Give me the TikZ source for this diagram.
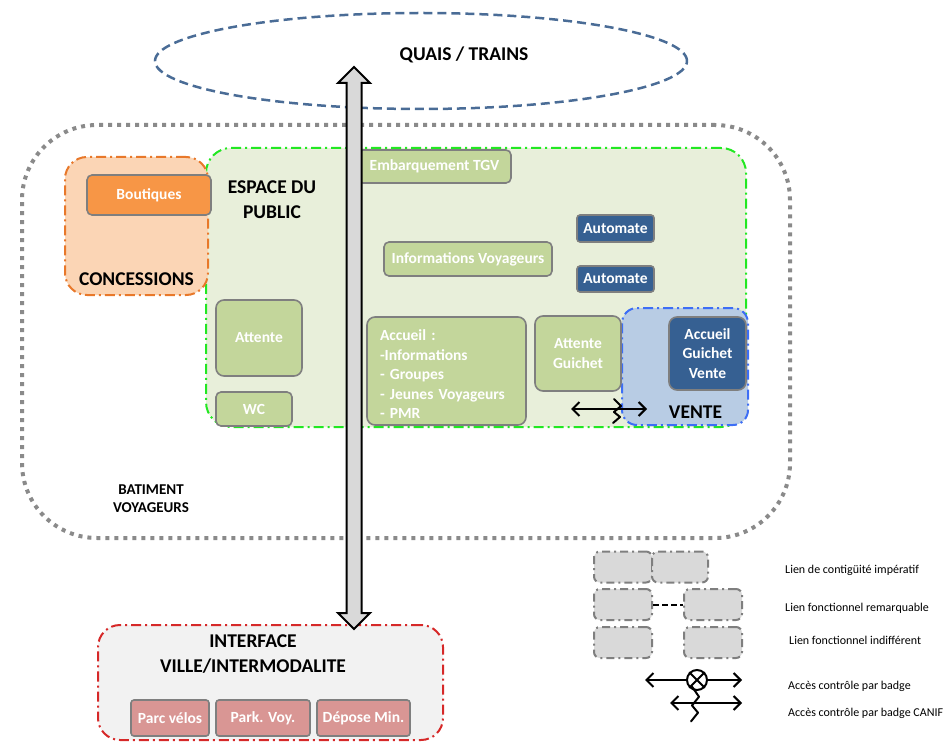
\documentclass[tikz,border=0pt]{standalone}
\usepackage{fontspec}
\setmainfont{Carlito}
\usetikzlibrary{shapes.geometric,arrows.meta,calc}
\definecolor{ellblue}{HTML}{4A6C96}
\definecolor{dotgray}{HTML}{8A8A8A}
\definecolor{concfill}{HTML}{FBD5B5}
\definecolor{concline}{HTML}{E8782A}
\definecolor{orangebox}{HTML}{F79646}
\definecolor{espfill}{HTML}{E8EFDA}
\definecolor{espline}{HTML}{22E822}
\definecolor{greenbox}{HTML}{C3D69B}
\definecolor{darkblue}{HTML}{366092}
\definecolor{ventefill}{HTML}{B8CCE4}
\definecolor{venteline}{HTML}{3D6EF5}
\definecolor{intfill}{HTML}{F2F2F2}
\definecolor{intline}{HTML}{D62828}
\definecolor{pinkbox}{HTML}{D99694}
\definecolor{leggray}{HTML}{D9D9D9}
\definecolor{boxgray}{HTML}{7F7F7F}
\definecolor{arrgray}{HTML}{D9D9D9}
\begin{document}
\begin{tikzpicture}[x=1pt,y=-1pt,
  zone/.style={line width=2pt, dash pattern=on 10pt off 4pt on 2pt off 4pt, inner sep=0pt},
  box/.style={draw=boxgray, line width=1.6pt, rounded corners=5pt, inner sep=0pt, text=white,
    font=\bfseries\fontsize{15.5}{19.5}\selectfont, align=center},
  title/.style={font=\bfseries\fontsize{19.5}{25}\selectfont, align=center, inner sep=0pt},
  legbox/.style={fill=leggray, draw=boxgray, line width=2pt, dash pattern=on 8pt off 4pt on 2pt off 4pt,
    rounded corners=6pt, minimum width=58pt, minimum height=31pt, inner sep=0pt},
  legtxt/.style={anchor=west, font=\fontsize{12}{14}\selectfont, inner sep=0pt},
  dblarr/.style={line width=2pt, {Straight Barb[length=7pt,width=14pt]}-{Straight Barb[length=7pt,width=14pt]}},
  squig/.pic={\draw[line width=2pt, line join=round, line cap=round] (-3,-12) -- (4,-5) -- (-3,1) -- (3,6) -- (-4,12);}
]
\useasboundingbox (0,0) rectangle (952,743);

% Quais / trains
\node[ellipse, draw=ellblue, line width=2.5pt, dash pattern=on 9pt off 5pt,
  minimum width=532pt, minimum height=96pt, inner sep=0pt] (quais) at (421,61) {};
\node[title] (quaislbl) at (464,55) {QUAIS / TRAINS};

% Batiment voyageurs
\node[draw=dotgray, line width=4pt, dash pattern=on 4pt off 5pt, rounded corners=75pt,
  minimum width=768pt, minimum height=413pt, inner sep=0pt] (bv) at (406,331.5) {};
\node[font=\bfseries\fontsize{15}{18}\selectfont, align=center, inner sep=0pt] (bvlbl) at (151,499) {BATIMENT\\VOYAGEURS};

% Espace du public
\node[zone, draw=espline, fill=espfill, rounded corners=25pt, minimum width=540pt, minimum height=279pt] (esp) at (476,287.5) {};
\node[title] (esplbl) at (272,199.5) {ESPACE DU\\PUBLIC};

% Concessions
\node[zone, draw=concline, fill=concfill, rounded corners=22pt, minimum width=143pt, minimum height=138pt] (conc) at (136.5,226) {};
\node[title] (conclbl) at (136.5,279) {CONCESSIONS};
\node[box, fill=orangebox, minimum width=124pt, minimum height=40pt] (bout) at (149,195) {Boutiques};

% Vente
\node[zone, draw=venteline, fill=ventefill, rounded corners=15pt, minimum width=126pt, minimum height=117pt] (vente) at (685,366.5) {};
\node[title] (ventelbl) at (695.5,412) {VENTE};

% Green boxes
\node[box, fill=greenbox, minimum width=153pt, minimum height=33pt] (embq) at (434.5,166.5) {Embarquement TGV};
\node[box, fill=greenbox, minimum width=168pt, minimum height=34pt] (infov) at (468,259) {Informations Voyageurs};
\node[box, fill=greenbox, minimum width=86pt, minimum height=76pt, rounded corners=8pt] (att) at (259,338) {Attente};
\node[box, fill=greenbox, minimum width=76pt, minimum height=34pt] (wc) at (254,409) {WC};
\node[box, fill=greenbox, minimum width=159pt, minimum height=108pt, rounded corners=8pt] (acc) at (446.5,371) {};
\node[box, draw=none, text width=133pt, align=left] (acctxt) at (446.5,374.5) {Accueil :\\-Informations\\- Groupes\\- Jeunes Voyageurs\\- PMR};
\node[box, fill=greenbox, minimum width=86pt, minimum height=75pt, rounded corners=8pt] (attg) at (578,353.5) {Attente\\Guichet};

% Dark blue boxes
\node[box, fill=darkblue, minimum width=77pt, minimum height=27pt, rounded corners=3pt] (aut1) at (615.5,228.5) {Automate};
\node[box, fill=darkblue, minimum width=77pt, minimum height=26pt, rounded corners=3pt] (aut2) at (615.5,279) {Automate};
\node[box, fill=darkblue, minimum width=77pt, minimum height=73pt, rounded corners=8pt] (accg) at (707.5,353.5) {Accueil\\Guichet\\Vente};

% CANIF arrow between attente guichet and vente
\coordinate (ca1) at (571,409);
\coordinate (ca2) at (647,409);
\draw[dblarr] (ca1) -- (ca2);
\pic at (617,411) {squig};

% Interface
\node[zone, draw=intline, fill=intfill, rounded corners=22pt, minimum width=345pt, minimum height=115pt] (intf) at (270.5,682.5) {};
\node[title] (intflbl) at (253,654) {INTERFACE\\VILLE/INTERMODALITE};
\node[box, fill=pinkbox, minimum width=78pt, minimum height=36pt, rounded corners=3pt] (parc) at (170,718) {Parc vélos};
\node[box, fill=pinkbox, minimum width=94pt, minimum height=36pt, rounded corners=3pt] (park) at (263,718) {Park. Voy.};
\node[box, fill=pinkbox, minimum width=93pt, minimum height=36pt, rounded corners=3pt] (depo) at (363.5,718) {Dépose Min.};

% Vertical big double arrow
\coordinate (vt) at (354,67);
\coordinate (vb) at (354,629);
\draw[line width=2pt, fill=arrgray, line join=miter]
  (vt) -- ($(vt)+(16,16)$) -- ($(vt)+(7.5,16)$) -- ($(vb)+(7.5,-16)$) -- ($(vb)+(16,-16)$) -- (vb)
  -- ($(vb)+(-16,-16)$) -- ($(vb)+(-7.5,-16)$) -- ($(vt)+(-7.5,16)$) -- ($(vt)+(-16,16)$) -- cycle;

% Legend
\node[legbox] (l1a) at (623,567) {};
\node[legbox, minimum width=56pt] (l1b) at (680,567) {};
\node[legbox] (l2a) at (623,604.5) {};
\node[legbox] (l2b) at (713,604.5) {};
\draw[line width=2pt, dash pattern=on 6pt off 3pt] (l2a.east) -- (l2b.west);
\node[legbox] (l3a) at (623,642.5) {};
\node[legbox] (l3b) at (713,642.5) {};

\coordinate (b1) at (645,680);
\coordinate (b2) at (742,680);
\draw[dblarr] (b1) -- (b2);
\node[circle, draw, fill=white, line width=2pt, minimum size=20pt, inner sep=0pt] (badge) at (697,680) {};
\draw[line width=2pt] (badge.north west) -- (badge.south east) (badge.north east) -- (badge.south west);

\coordinate (c1) at (670,703);
\coordinate (c2) at (742,703);
\draw[dblarr] (c1) -- (c2);
\pic[yscale=1.45] at (695,704) {squig};

\node[legtxt] (t1) at (785,570) {Lien de contigüité impératif};
\node[legtxt] (t2) at (785,608) {Lien fonctionnel remarquable};
\node[legtxt] (t3) at (789,640) {Lien fonctionnel indifférent};
\node[legtxt] (t4) at (788,686) {Accès contrôle par badge};
\node[legtxt] (t5) at (788,713) {Accès contrôle par badge CANIF};
\end{tikzpicture}
\end{document}
